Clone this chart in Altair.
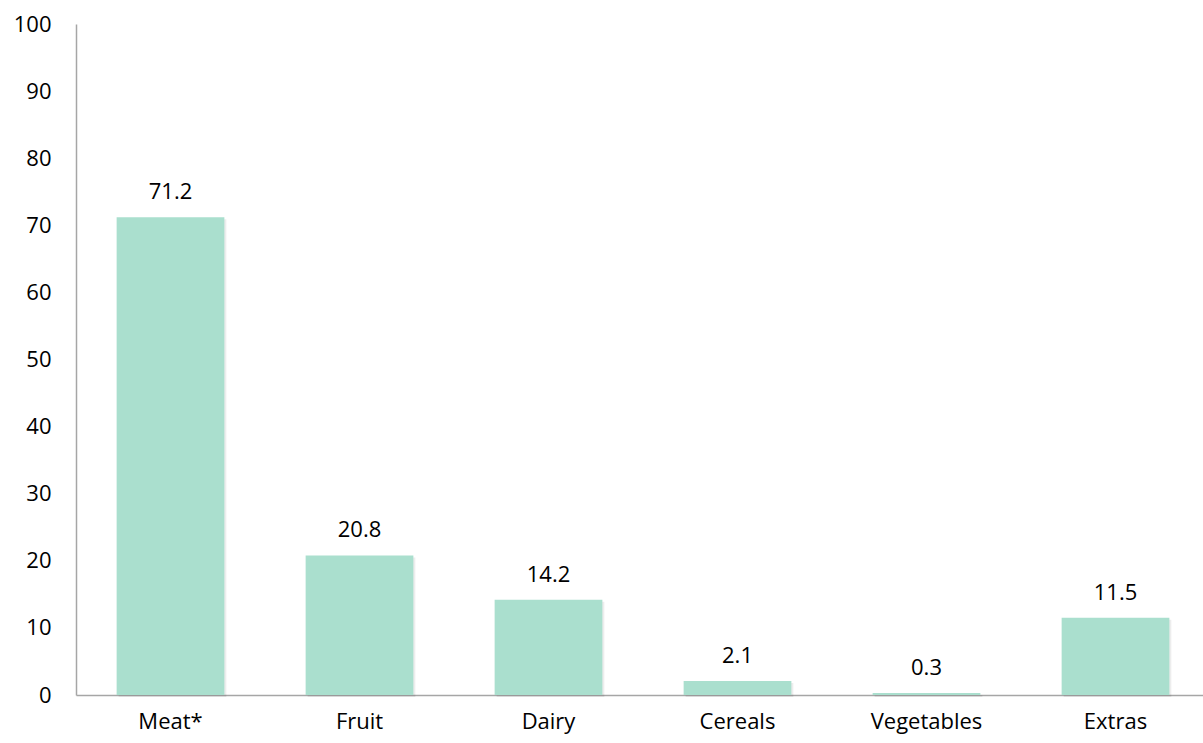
import altair as alt
import pandas as pd

categories = ["Meat*", "Fruit", "Dairy", "Cereals", "Vegetables", "Extras"]
values = [71.2, 20.8, 14.2, 2.1, 0.3, 11.5]
labels = ["71.2", "20.8", "14.2", "2.1", "0.3", "11.5"]

df = pd.DataFrame({"cat": categories, "val": values, "lab": labels})

FONT = "Open Sans"
FS = 22
W, H = 1127, 671

x = alt.X("cat:N", sort=categories, title=None,
          scale=alt.Scale(range=[0, 1134], paddingInner=0.43, paddingOuter=0.215),
          axis=alt.Axis(labelAngle=0, ticks=False, labelPadding=16, labelFontSize=FS,
                        labelFont=FONT, labelColor="#000000", domainColor="#a6a6a6",
                        domainWidth=1.5))
y = alt.Y("val:Q", title=None,
          scale=alt.Scale(domain=[0, 100], nice=False),
          axis=alt.Axis(values=list(range(0, 101, 10)), ticks=False, grid=False,
                        labelPadding=25, labelFontSize=FS, labelFont=FONT,
                        labelColor="#000000", domainColor="#a6a6a6", domainWidth=1.5))

base = alt.Chart(df)
shadow = base.mark_bar(color="#000000", opacity=0.07, xOffset=2, yOffset=2).encode(x=x, y=y)
bars = base.mark_bar(color="#aadfce").encode(x=x, y=y)
text = base.mark_text(dy=-25, fontSize=FS, font=FONT, color="#000000").encode(
    x=x, y=y, text="lab:N")

chart = (shadow + bars + text).properties(
    width=W, height=H,
    background="white",
    autosize=alt.AutoSizeParams(type="none"),
    padding={"left": 76, "top": 24, "right": 0, "bottom": 48},
).configure_view(stroke=None)

chart.save("out.html", embed_options={"renderer": "svg", "actions": False})
